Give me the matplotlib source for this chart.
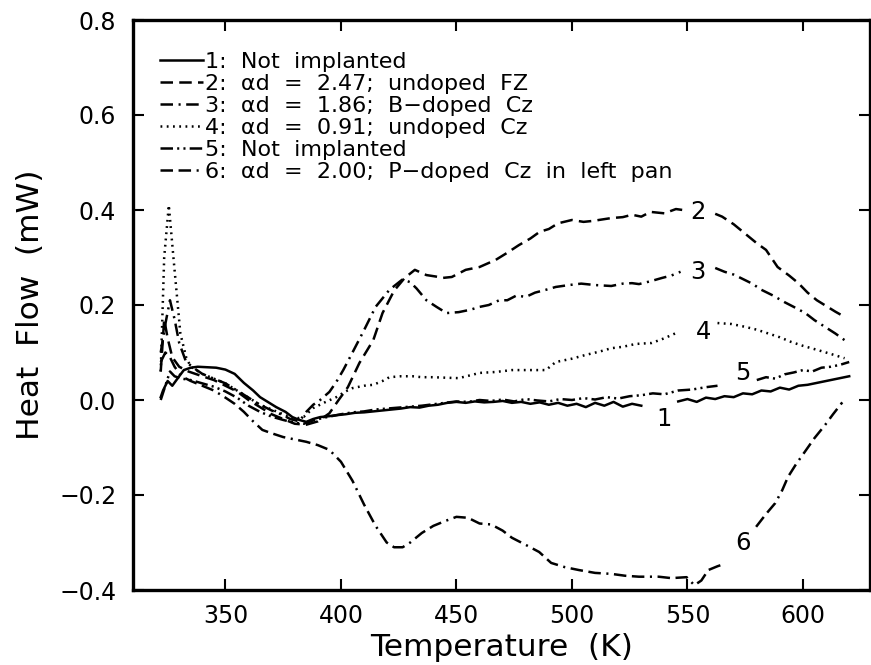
import numpy as np
import matplotlib
matplotlib.use('Agg')
import matplotlib.pyplot as plt

nan = np.nan

# curve 1: not implanted (solid)
t1 = [322, 323, 325, 327, 330, 332, 335, 338, 342, 346, 350, 354, 358, 362, 365, 368, 372, 376,
      379, 382, 385, 388, 391, 395, 398, 402, 406, 410, 414, 418, 422, 426, 430, 434, 438, 442,
      446, 450, 454, 458, 462, 466, 470, 474, 478, 482, 486, 490, 494, 498, 502, 506, 510, 514,
      518, 522, 526, 530, nan, 546, 550, 554, 558, 562, 566, 570, 574, 578, 582, 586, 590, 594,
      598, 602, 606, 610, 614, 618, 620]
h1 = [0.006, 0.02, 0.04, 0.03, 0.05, 0.063, 0.068, 0.07, 0.069, 0.068, 0.064, 0.055, 0.036, 0.02,
      0.006, -0.003, -0.015, -0.025, -0.036, -0.042, -0.046, -0.04, -0.036, -0.034, -0.032, -0.03,
      -0.027, -0.026, -0.024, -0.022, -0.02, -0.018, -0.015, -0.016, -0.012, -0.01, -0.006, -0.004,
      -0.006, -0.003, -0.005, -0.004, -0.002, -0.006, -0.004, -0.008, -0.005, -0.01, -0.006, -0.012,
      -0.008, -0.015, -0.006, -0.012, -0.004, -0.014, -0.008, -0.012, nan, -0.003, 0.002, -0.004,
      0.005, 0.002, 0.008, 0.006, 0.014, 0.012, 0.02, 0.018, 0.026, 0.022, 0.03, 0.032, 0.036, 0.04,
      0.044, 0.048, 0.05]

# curve 2: undoped FZ (dashed)
t2 = [322, 323.5, 325, 327, 330, 334, 340, 345, 350, 355, 360, 365, 370, 375, 380, 385, 390, 395,
      399, 403, 408, 414, 418, 423, 427.6, 432, 437, 441, 444, 448, 454, 460, 467, 472, 477, 482,
      486, 490, 494, 500, 505, 509, 513, 517, 522, 526, 530, 534, 540, 545, 548, nan, 562, 565,
      570, 575, 580, 584, 589, 594, 598, 602, 606, 610, 614, 618]
h2 = [0.06, 0.17, 0.13, 0.09, 0.07, 0.06, 0.05, 0.042, 0.03, 0.018, 0.0, -0.015, -0.03, -0.04,
      -0.05, -0.052, -0.045, -0.028, 0.0, 0.027, 0.078, 0.126, 0.183, 0.23, 0.257, 0.274, 0.263,
      0.26, 0.257, 0.259, 0.274, 0.28, 0.295, 0.31, 0.326, 0.34, 0.354, 0.36, 0.372, 0.379, 0.375,
      0.377, 0.38, 0.383, 0.385, 0.39, 0.386, 0.396, 0.393, 0.402, 0.4, nan, 0.392, 0.386, 0.37,
      0.35, 0.33, 0.316, 0.28, 0.262, 0.246, 0.226, 0.21, 0.198, 0.186, 0.175]

# curve 3: B-doped Cz (dash-dot)
t3 = [322, 324, 326, 328, 330, 333, 337, 340, 345, 350, 355, 360, 365, 370, 375, 378, 382, 385,
      388, 391, 395, 398, 401, 405, 410, 415, 421, 426.7, 430, 432.7, 437, 441.4, 445.7, 451, 456,
      460, 464, 468.5, 472, 476, 480, 484, 488.7, 493, 498.7, 504, 510, 517, 522, 526, 529, 534,
      539, 543, 547, nan, 562, 566, 570, 573, 578, 582, 587, 592, 596, 601, 605, 609.5, 614, 618]
h3 = [0.1, 0.16, 0.21, 0.17, 0.12, 0.08, 0.065, 0.055, 0.045, 0.035, 0.02, 0.005, -0.01, -0.022,
      -0.032, -0.04, -0.045, -0.025, -0.01, 0.0, 0.017, 0.038, 0.063, 0.1, 0.147, 0.196, 0.232,
      0.254, 0.248, 0.235, 0.21, 0.196, 0.183, 0.185, 0.19, 0.196, 0.2, 0.21, 0.21, 0.22, 0.217,
      0.226, 0.232, 0.238, 0.242, 0.245, 0.242, 0.24, 0.245, 0.246, 0.244, 0.25, 0.257, 0.262,
      0.27, nan, 0.278, 0.27, 0.264, 0.257, 0.245, 0.232, 0.22, 0.206, 0.196, 0.183, 0.168, 0.154,
      0.14, 0.126]

# curve 4: undoped Cz (dotted)
t4 = [322, 323.5, 325.5, 327.5, 330.5, 333, 335, 340, 345, 350, 355, 360, 365, 370, 375, 380,
      384, 388, 393, 398, 402, 405, 410, 414, 418, 421, 426, 431, 435, 439.7, 445, 451, 456, 460,
      467, 474, 481, 488.7, 493, 500, 506, 512, 517, 522, 527.6, 534.5, 540, 546, nan, 563, 569,
      575, 580, 585, 590, 595, 600, 606.5, 612, 618]
h4 = [0.06, 0.3, 0.41, 0.3, 0.14, 0.09, 0.07, 0.055, 0.045, 0.035, 0.02, 0.005, -0.01, -0.02,
      -0.03, -0.04, -0.035, -0.017, -0.005, 0.006, 0.018, 0.025, 0.03, 0.032, 0.04, 0.048, 0.05,
      0.05, 0.048, 0.048, 0.047, 0.046, 0.052, 0.057, 0.059, 0.063, 0.063, 0.063, 0.08, 0.087,
      0.095, 0.102, 0.109, 0.112, 0.118, 0.12, 0.13, 0.143, nan, 0.162, 0.16, 0.154, 0.148, 0.14,
      0.132, 0.122, 0.114, 0.105, 0.097, 0.088]

# curve 5: not implanted (dash-dot-dot)
t5 = [322, 324, 326, 328, 331, 335, 340, 345, 350, 355, 360, 365, 370, 375, 380, 384, 388, 392,
      396, 400, 405, 410, 415, 420, 425, 430, 435, 440, 445, 450, 455, 460, 465, 470, 475, 480,
      485, 490, 495, 500, 505, 510, 515, 520, 525, 530, 535, 540, 546, 552, 558, 563, nan, 580,
      584, 588, 592, 596, 600, 604, 608, 612, 616, 620]
h5 = [0.0, 0.03, 0.06, 0.05, 0.045, 0.042, 0.035, 0.028, 0.018, 0.005, -0.012, -0.025, -0.035,
      -0.042, -0.048, -0.05, -0.043, -0.038, -0.034, -0.03, -0.026, -0.024, -0.02, -0.018, -0.016,
      -0.014, -0.012, -0.009, -0.006, -0.003, -0.004, 0.0, -0.002, 0.001, -0.003, 0.002, -0.001,
      -0.003, 0.002, 0.0, 0.004, 0.001, 0.006, 0.003, 0.008, 0.01, 0.014, 0.012, 0.02, 0.022,
      0.027, 0.03, nan, 0.042, 0.048, 0.045, 0.054, 0.058, 0.063, 0.06, 0.068, 0.07, 0.074, 0.08]

# curve 6: P-doped Cz in left pan (dash-dash-dot)
t6 = [322, 324, 326, 328, 331, 335, 340, 345, 350, 354, 358, 362, 366, 370, 375, 381, 385, 390,
      395, 400, 405, 410, 415, 419.8, 423, 426.7, 430, 435, 440, 445, 450, 455, 460, 465, 470, 474,
      480, 485.8, 491, 497, 503, 510, 517, 523, 529, 537.5, 543, 549.6, 553, 556, 559, 563, 566,
      nan, 579.7, 584, 588, 591, 593.5, 597, 600.8, 605, 609.5, 613, 617]
h6 = [0.08, 0.1, 0.09, 0.07, 0.05, 0.04, 0.03, 0.02, 0.005, -0.008, -0.025, -0.045, -0.063, -0.07,
      -0.078, -0.084, -0.088, -0.095, -0.105, -0.13, -0.17, -0.22, -0.265, -0.3, -0.31, -0.31, -0.3,
      -0.28, -0.265, -0.255, -0.246, -0.248, -0.26, -0.262, -0.275, -0.29, -0.305, -0.32, -0.343,
      -0.352, -0.358, -0.364, -0.366, -0.37, -0.372, -0.372, -0.375, -0.373, -0.39, -0.38, -0.358,
      -0.35, -0.345, nan, -0.267, -0.24, -0.217, -0.19, -0.162, -0.135, -0.109, -0.08, -0.053,
      -0.03, -0.005]

labels = ['1:  Not  implanted',
          '2:  \u03b1d  =  2.47;  undoped  FZ',
          '3:  \u03b1d  =  1.86;  B\u2212doped  Cz',
          '4:  \u03b1d  =  0.91;  undoped  Cz',
          '5:  Not  implanted',
          '6:  \u03b1d  =  2.00;  P\u2212doped  Cz  in  left  pan']

# curve number labels placed next to the curves
tag_text = ['1', '2', '3', '4', '5', '6']
tag_t = [540, 554.5, 554.5, 557, 574, 574]
tag_h = [-0.04, 0.396, 0.27, 0.143, 0.057, -0.30]

plt.rcParams['font.family'] = ['DejaVu Sans']
plt.rcParams['lines.scale_dashes'] = False

fig = plt.figure(figsize=(8.71, 6.65), dpi=100)
ax = fig.add_axes([133/871, 1 - 590/665, 737/871, 570/665])

dashes = [None, (9, 4.5), (9, 4, 1.5, 4), (1.3, 3.2), (9, 3, 1.5, 3, 1.5, 3), (9, 4, 9, 4, 1.5, 4)]
series = [(t1, h1), (t2, h2), (t3, h3), (t4, h4), (t5, h5), (t6, h6)]
for (t, h), d, lab in zip(series, dashes, labels):
    line, = ax.plot(t, h, color='black', lw=1.8, label=lab)
    if d is not None:
        line.set_dashes(d)

for s, x, y in zip(tag_text, tag_t, tag_h):
    ax.text(x, y, s, fontsize=17.5, ha='center', va='center')

ax.set_xlim(310, 629)
ax.set_ylim(-0.4, 0.8)
ax.set_xticks([350, 400, 450, 500, 550, 600])
ax.set_yticks([-0.4, -0.2, 0.0, 0.2, 0.4, 0.6, 0.8])
ax.set_yticklabels(['\u22120.4', '\u22120.2', '0.0', '0.2', '0.4', '0.6', '0.8'])
ax.tick_params(direction='in', length=8, width=1.5, top=True, right=True, labelsize=17)
ax.tick_params(axis='y', pad=12)
ax.tick_params(axis='x', pad=10)
for sp in ax.spines.values():
    sp.set_linewidth(2.4)

ax.set_xlabel('Temperature  (K)', fontsize=22.5, labelpad=4)
ax.set_ylabel('Heat  Flow  (mW)', fontsize=22.5, labelpad=10)

ax.legend(loc='upper left', bbox_to_anchor=(0.036, 0.944), frameon=False, fontsize=16,
          handlelength=1.95, handletextpad=0.08, labelspacing=0.09, borderaxespad=0,
          borderpad=0)

fig.savefig('out.png', dpi=100)
